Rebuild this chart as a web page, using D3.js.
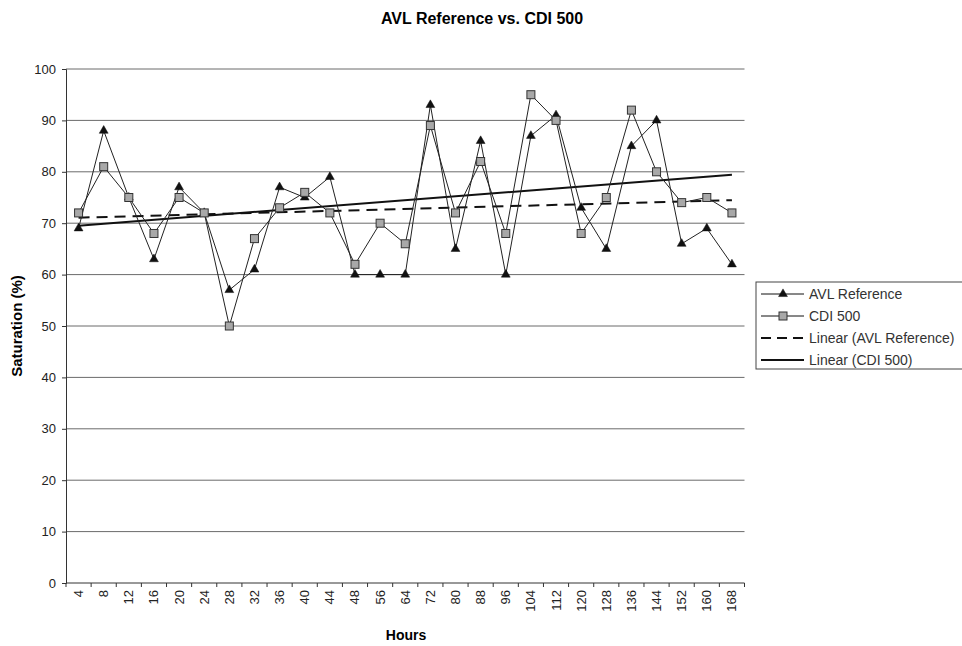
<!DOCTYPE html>
<html>
<head>
<meta charset="utf-8">
<script src="https://cdn.jsdelivr.net/npm/d3@7"></script>
<style>
  body { margin: 0; background: #fff; }
  text { font-family: "Liberation Sans", Arial, sans-serif; }
</style>
</head>
<body>
<div id="chart"></div>
<script>
const hours = ["4","8","12","16","20","24","28","32","36","40","44","48","56","64","72","80","88","96","104","112","120","128","136","144","152","160","168"];
const avlValues = [69,88,75,63,77,72,57,61,77,75,79,60,60,60,93,65,86,60,87,91,73,65,85,90,66,69,62];
const cdiValues = [72,81,75,68,75,72,50,67,73,76,72,62,70,66,89,72,82,68,95,90,68,75,92,80,74,75,72];
const yTicks = [0,10,20,30,40,50,60,70,80,90,100];

const width = 962, height = 646;
const plot = {left: 66, right: 744.5, top: 69, bottom: 583};

const svg = d3.select("#chart").append("svg")
    .attr("width", width)
    .attr("height", height);

const x = d3.scaleBand().domain(hours).range([plot.left, plot.right]);
const y = d3.scaleLinear().domain([0, 100]).range([plot.bottom, plot.top]);
const cx = d => x(d) + x.bandwidth() / 2;

// gridlines
svg.append("g")
    .selectAll("line")
    .data(yTicks.filter(t => t > 0))
    .enter()
    .append("line")
    .attr("x1", plot.left).attr("x2", plot.right)
    .attr("y1", d => y(d)).attr("y2", d => y(d))
    .style("stroke", "#6b6b6b")
    .style("stroke-width", 1);

// y axis
const yAxis = svg.append("g")
    .attr("transform", `translate(${plot.left},0)`)
    .call(d3.axisLeft(y).tickValues(yTicks).tickSize(4).tickPadding(6));
yAxis.selectAll("text").style("font-size", "13px").style("fill", "#222");
yAxis.selectAll("line, path").style("stroke", "#333");

// x axis: ticks at category boundaries
const xg = svg.append("g").attr("transform", `translate(0,${plot.bottom})`);
xg.append("line")
    .attr("x1", plot.left).attr("x2", plot.right)
    .style("stroke", "#333");
xg.selectAll(".tk")
    .data(hours.concat(["end"]))
    .enter()
    .append("line")
    .attr("x1", (d, i) => plot.left + i * x.step())
    .attr("x2", (d, i) => plot.left + i * x.step())
    .attr("y1", 0).attr("y2", 4)
    .style("stroke", "#333");
xg.selectAll("text")
    .data(hours)
    .enter()
    .append("text")
    .attr("transform", d => `translate(${cx(d) + 4.5},7) rotate(-90)`)
    .attr("text-anchor", "end")
    .style("font-size", "13px")
    .style("fill", "#222")
    .text(d => d);

// linear trendlines (least squares over category index, like Excel)
function trend(vals) {
    const n = vals.length;
    const xs = vals.map((v, i) => i + 1);
    const mx = d3.mean(xs), my = d3.mean(vals);
    const b = d3.sum(xs, (xi, i) => (xi - mx) * (vals[i] - my)) / d3.sum(xs, xi => (xi - mx) ** 2);
    const a = my - b * mx;
    return [[hours[0], a + b], [hours[n - 1], a + b * n]];
}

const line = d3.line().x(d => cx(d[0])).y(d => y(d[1]));

svg.append("path")
    .attr("d", line(trend(avlValues)))
    .style("fill", "none").style("stroke", "#111").style("stroke-width", 2)
    .style("stroke-dasharray", "11,7");
svg.append("path")
    .attr("d", line(trend(cdiValues)))
    .style("fill", "none").style("stroke", "#111").style("stroke-width", 2);

// series lines
const avlPts = hours.map((h, i) => [h, avlValues[i]]);
const cdiPts = hours.map((h, i) => [h, cdiValues[i]]);
svg.append("path").attr("d", line(avlPts))
    .style("fill", "none").style("stroke", "#222").style("stroke-width", 1);
svg.append("path").attr("d", line(cdiPts))
    .style("fill", "none").style("stroke", "#222").style("stroke-width", 1);

const tri = d3.symbol().type(d3.symbolTriangle).size(34);
function drawTri(sel) {
    sel.append("path").attr("d", tri)
        .style("fill", "#111").style("stroke", "#111").style("stroke-width", 0.5);
}
function drawSquare(sel) {
    sel.append("rect").attr("x", -4).attr("y", -4).attr("width", 8).attr("height", 8)
        .style("fill", "#a8a8a8").style("stroke", "#333").style("stroke-width", 1);
}

svg.append("g").selectAll("g").data(avlPts).enter().append("g")
    .attr("transform", d => `translate(${cx(d[0])},${y(d[1])})`)
    .call(drawTri);
svg.append("g").selectAll("g").data(cdiPts).enter().append("g")
    .attr("transform", d => `translate(${cx(d[0])},${y(d[1])})`)
    .call(drawSquare);

// titles
svg.append("text").attr("x", 482).attr("y", 24).attr("text-anchor", "middle")
    .style("font-size", "16px").style("font-weight", "bold").text("AVL Reference vs. CDI 500");
svg.append("text").attr("x", 406).attr("y", 640).attr("text-anchor", "middle")
    .style("font-size", "14px").style("font-weight", "bold").text("Hours");
svg.append("text").attr("transform", `translate(22,${(plot.top + plot.bottom) / 2}) rotate(-90)`)
    .attr("text-anchor", "middle")
    .style("font-size", "15px").style("font-weight", "bold").text("Saturation (%)");

// legend
const legend = svg.append("g").attr("transform", "translate(756,282)");
legend.append("rect").attr("x", 0).attr("y", 0).attr("width", 230).attr("height", 87)
    .style("fill", "#fff").style("stroke", "#444").style("stroke-width", 1);
const legendItems = [
    {label: "AVL Reference", dash: null, w: 1, mark: drawTri},
    {label: "CDI 500", dash: null, w: 1, mark: drawSquare},
    {label: "Linear (AVL Reference)", dash: "10,6", w: 2, mark: null},
    {label: "Linear (CDI 500)", dash: null, w: 2, mark: null}
];
const rows = legend.selectAll(".row").data(legendItems).enter().append("g")
    .attr("transform", (d, i) => `translate(0,${12 + i * 22})`);
rows.append("line").attr("x1", 5).attr("x2", 48)
    .style("stroke", "#111")
    .style("stroke-width", d => d.w)
    .style("stroke-dasharray", d => d.dash);
rows.each(function(d) {
    if (d.mark) d3.select(this).append("g").attr("transform", "translate(27,0)").call(d.mark);
});
rows.append("text").attr("x", 53).attr("y", 5)
    .style("font-size", "14px").style("fill", "#333").text(d => d.label);
</script>
</body>
</html>
